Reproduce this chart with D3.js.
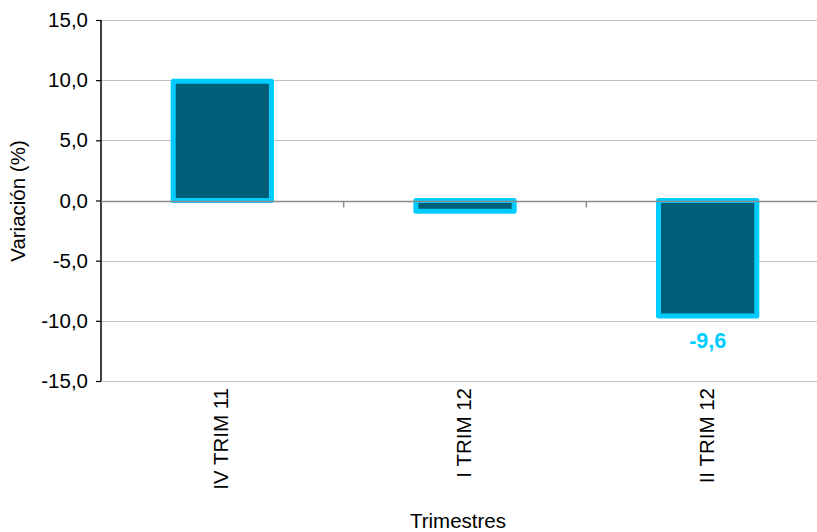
<!DOCTYPE html>
<html>
<head>
<meta charset="utf-8">
<script src="https://cdn.jsdelivr.net/npm/d3@7"></script>
<style>
  html, body { margin: 0; padding: 0; background: #fff; overflow: hidden; }
  svg { display: block; }
  text { font-family: "Liberation Sans", Arial, sans-serif; fill: #000; }
</style>
</head>
<body>
<svg id="chart" width="817" height="532"></svg>
<script>
const categories = ["IV TRIM 11", "I TRIM 12", "II TRIM 12"];
const values = [9.9, -0.9, -9.6];
const dataLabels = [null, null, "-9,6"];
const yTicks = [-15, -10, -5, 0, 5, 10, 15];
const yTitle = "Variación (%)";
const xTitle = "Trimestres";

(function () {
const svg = d3.select("#chart");
const pLeft = 101, pRight = 829, pTop = 20, pBottom = 381;
const fs = "20.5px";

const x = d3.scaleBand().domain(categories).range([pLeft, pRight]).padding(0);
const y = d3.scaleLinear().domain([-15, 15]).range([pBottom, pTop]);
const fmt = v => d3.format(".1f")(v).replace(".", ",").replace("−", "-");

// gridlines
svg.append("g").selectAll("line").data(yTicks.filter(d => d !== 0)).join("line")
  .attr("x1", pLeft).attr("x2", pRight)
  .attr("y1", d => Math.round(y(d)) + 0.5).attr("y2", d => Math.round(y(d)) + 0.5)
  .attr("stroke", "#c0c0c0").attr("stroke-width", 1.2);

// y axis
const yAxis = d3.axisLeft(y).tickValues(yTicks).tickSize(5).tickPadding(8).tickFormat(fmt);
const ya = svg.append("g").attr("transform", `translate(${pLeft},0)`).call(yAxis);
ya.select(".domain").remove();
ya.selectAll(".tick line").attr("stroke", "#000").attr("stroke-width", 1.2);
ya.selectAll(".tick text").style("font-size", fs).attr("fill", "#000")
  .style("font-family", "'Liberation Sans', Arial, sans-serif");
svg.append("line").attr("x1", pLeft).attr("x2", pLeft).attr("y1", pTop).attr("y2", pBottom)
  .attr("stroke", "#000").attr("stroke-width", 1.5);

// bars
const barW = x.step() * 0.405;
svg.append("g").selectAll("rect").data(values).join("rect")
  .attr("x", (d, i) => x(categories[i]) + x.bandwidth() / 2 - barW / 2)
  .attr("y", d => y(Math.max(0, d)))
  .attr("width", barW)
  .attr("height", d => Math.abs(y(d) - y(0)))
  .attr("fill", "#005f78")
  .attr("stroke", "#00ccff").attr("stroke-width", 5).attr("stroke-linejoin", "round");

// zero line with category ticks
const zy = Math.round(y(0)) + 0.5;
svg.append("line").attr("x1", pLeft).attr("x2", pRight).attr("y1", zy).attr("y2", zy)
  .attr("stroke", "#8c8c8c").attr("stroke-width", 1.5);
svg.append("g").selectAll("line").data(categories.slice(1)).join("line")
  .attr("x1", d => x(d)).attr("x2", d => x(d))
  .attr("y1", zy).attr("y2", zy + 6)
  .attr("stroke", "#8c8c8c").attr("stroke-width", 1.5);

// x category labels (rotated)
svg.append("g").selectAll("text").data(categories).join("text")
  .attr("transform", d => `translate(${x(d) + x.bandwidth() / 2 + 6},388) rotate(-90)`)
  .attr("text-anchor", "end")
  .style("font-size", fs)
  .text(d => d);

// data labels
const labelled = values.map((v, i) => ({v, i})).filter(o => dataLabels[o.i] !== null);
svg.append("g").selectAll("text").data(labelled).join("text")
  .attr("x", o => x(categories[o.i]) + x.bandwidth() / 2)
  .attr("y", o => y(o.v) + 32)
  .attr("text-anchor", "middle")
  .style("font-size", "21.5px").style("font-weight", "bold")
  .style("fill", "#00ccff")
  .text(o => dataLabels[o.i]);

// axis titles
svg.append("text").attr("transform", "translate(25,201) rotate(-90)")
  .attr("text-anchor", "middle").style("font-size", fs).text(yTitle);
svg.append("text").attr("x", 458).attr("y", 528)
  .attr("text-anchor", "middle").style("font-size", fs).text(xTitle);
})();
</script>
</body>
</html>
